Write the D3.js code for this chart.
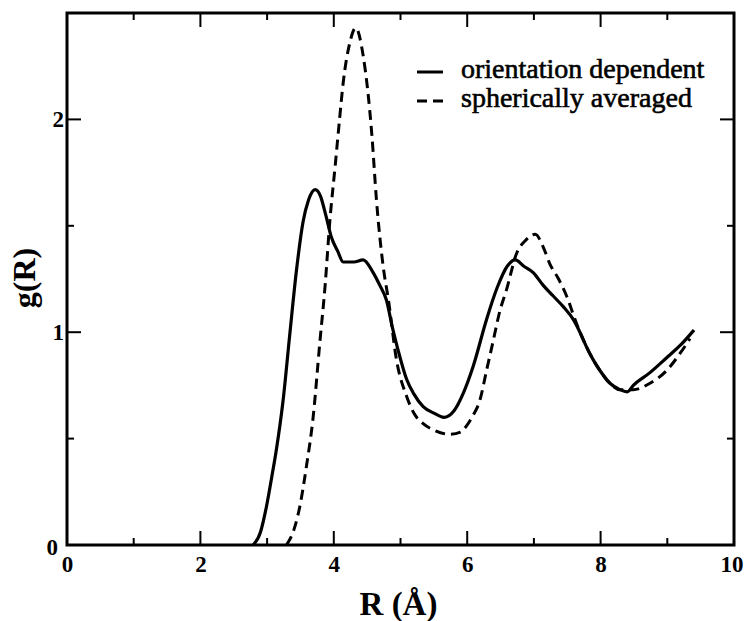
<!DOCTYPE html>
<html>
<head>
<meta charset="utf-8">
<script src="https://cdn.jsdelivr.net/npm/d3@7"></script>
<style>
html,body{margin:0;padding:0;background:#fff;}
svg{display:block;}
svg text{font-family:"Liberation Serif","Times New Roman",Times,"DejaVu Serif",serif !important;fill:#000;}
</style>
</head>
<body>
<svg id="chart" width="745" height="621"></svg>
<script>
// ---- data ----
const seriesNames = ["orientation dependent", "spherically averaged"];

const orientR = [2.79, 2.9, 2.99, 3.07, 3.14, 3.24, 3.34, 3.44, 3.54, 3.62, 3.72, 3.8, 3.88, 3.96, 4.06, 4.14, 4.3, 4.44, 4.59, 4.69, 4.79, 4.88, 4.96, 5.09, 5.2, 5.34, 5.5, 5.65, 5.8, 5.95, 6.09, 6.29, 6.45, 6.6, 6.72, 6.85, 6.99, 7.14, 7.29, 7.44, 7.59, 7.69, 7.79, 7.89, 7.99, 8.14, 8.29, 8.4, 8.49, 8.74, 8.99, 9.2, 9.4];
const orientG = [0, 0.06, 0.18, 0.32, 0.45, 0.68, 0.99, 1.29, 1.52, 1.62, 1.67, 1.64, 1.55, 1.45, 1.38, 1.33, 1.33, 1.34, 1.28, 1.22, 1.15, 1.02, 0.92, 0.78, 0.71, 0.65, 0.62, 0.60, 0.63, 0.72, 0.84, 1.06, 1.21, 1.31, 1.34, 1.31, 1.28, 1.22, 1.17, 1.12, 1.06, 1.0, 0.93, 0.87, 0.82, 0.76, 0.73, 0.72, 0.75, 0.81, 0.88, 0.94, 1.01];

const spherR = [3.29, 3.4, 3.49, 3.59, 3.69, 3.79, 3.87, 3.94, 4.02, 4.08, 4.14, 4.24, 4.33, 4.44, 4.57, 4.64, 4.74, 4.82, 4.94, 5.09, 5.2, 5.34, 5.5, 5.74, 5.9, 5.99, 6.09, 6.19, 6.29, 6.39, 6.49, 6.59, 6.74, 6.87, 7.02, 7.14, 7.24, 7.37, 7.49, 7.64, 7.79, 7.99, 8.14, 8.29, 8.49, 8.74, 8.99, 9.19, 9.34];
const spherG = [0, 0.07, 0.18, 0.37, 0.60, 0.95, 1.22, 1.52, 1.78, 1.98, 2.17, 2.36, 2.43, 2.30, 1.93, 1.62, 1.31, 1.15, 0.87, 0.70, 0.62, 0.57, 0.54, 0.52, 0.53, 0.56, 0.61, 0.68, 0.82, 0.96, 1.10, 1.20, 1.37, 1.43, 1.46, 1.40, 1.32, 1.25, 1.17, 1.04, 0.93, 0.82, 0.76, 0.73, 0.73, 0.76, 0.82, 0.90, 0.97];

const xMajorTicks = [0, 2, 4, 6, 8, 10];
const xMinorTicks = [1, 3, 5, 7, 9];
const yMajorTicks = [0, 1, 2];
const yMinorTicks = [0.5, 1.5];
const xLabel = "R (Å)";
const yLabel = "g(R)";

// ---- layout ----
const FONT = "'Liberation Serif','Times New Roman',Times,'DejaVu Serif',serif";
const svg = d3.select("#chart");
const L = 67, R = 734, T = 13, B = 545;
const x = d3.scaleLinear().domain([0, 10]).range([L, R]);
const y = d3.scaleLinear().domain([0, 2.5]).range([B, T]);

const majorLen = 14, minorLen = 7;

// ticks, inward on all four sides
const tg = svg.append("g").attr("stroke", "#000").attr("stroke-width", 2);
function xt(vals, len) {
  vals.forEach(v => {
    tg.append("line").attr("x1", x(v)).attr("x2", x(v)).attr("y1", B).attr("y2", B - len);
    tg.append("line").attr("x1", x(v)).attr("x2", x(v)).attr("y1", T).attr("y2", T + len);
  });
}
function yt(vals, len) {
  vals.forEach(v => {
    tg.append("line").attr("y1", y(v)).attr("y2", y(v)).attr("x1", L).attr("x2", L + len);
    tg.append("line").attr("y1", y(v)).attr("y2", y(v)).attr("x1", R).attr("x2", R - len);
  });
}
xt(xMajorTicks, majorLen); xt(xMinorTicks, minorLen);
yt(yMajorTicks, majorLen); yt(yMinorTicks, minorLen);

// frame
svg.append("rect").attr("x", L).attr("y", T).attr("width", R - L).attr("height", B - T)
  .attr("fill", "none").attr("stroke", "#000").attr("stroke-width", 3);

// tick labels
const xAxis = d3.axisBottom(x).tickValues(xMajorTicks).tickSize(0).tickPadding(0).tickFormat(d3.format("d"));
const gx = svg.append("g").attr("transform", `translate(0,${B})`).call(xAxis).attr("font-family", FONT);
gx.select(".domain").remove();
gx.selectAll("text").attr("font-size", 23).attr("font-weight", "bold")
  .attr("dy", null).attr("y", 27);
gx.selectAll(".tick").filter(d => d === 10).select("text")
  .attr("text-anchor", "end").attr("x", 743 - x(10));

const yAxis = d3.axisLeft(y).tickValues(yMajorTicks).tickSize(0).tickPadding(0).tickFormat(d3.format("d"));
const gy = svg.append("g").attr("transform", `translate(${L},0)`).call(yAxis).attr("font-family", FONT);
gy.select(".domain").remove();
gy.selectAll("text").attr("font-size", 23).attr("font-weight", "bold")
  .attr("dy", "0.33em").attr("x", -3);
gy.selectAll(".tick").filter(d => d === 0).select("text").attr("x", -9).attr("dy", "0.4em");

// axis titles
svg.append("text").attr("x", (L + R) / 2 - 2).attr("y", 615).attr("text-anchor", "middle")
  .attr("font-family", FONT).attr("font-size", 33).attr("font-weight", "bold").text(xLabel);
svg.append("text").attr("transform", "translate(35,278) rotate(-90)").attr("text-anchor", "middle")
  .attr("font-family", FONT).attr("font-size", 32).attr("font-weight", "bold").text(yLabel);

// curves
const line = d3.line().x(d => x(d[0])).y(d => y(d[1])).curve(d3.curveMonotoneX);
const orient = orientR.map((r, i) => [r, orientG[i]]);
const spher = spherR.map((r, i) => [r, spherG[i]]);

svg.append("path").datum(spher).attr("d", line).attr("fill", "none")
  .attr("stroke", "#000").attr("stroke-width", 3).attr("stroke-dasharray", "10,6");
svg.append("path").datum(orient).attr("d", line).attr("fill", "none")
  .attr("stroke", "#000").attr("stroke-width", 3.2);

// legend
const lg = svg.append("g");
const legY = [72, 101];
lg.append("line").attr("x1", 417).attr("x2", 443).attr("y1", legY[0]).attr("y2", legY[0])
  .attr("stroke", "#000").attr("stroke-width", 3);
lg.append("line").attr("x1", 417).attr("x2", 443).attr("y1", legY[1]).attr("y2", legY[1])
  .attr("stroke", "#000").attr("stroke-width", 3).attr("stroke-dasharray", "10,6");
seriesNames.forEach((n, i) => {
  lg.append("text").attr("x", 461).attr("y", legY[i] + 6).attr("font-family", FONT).attr("font-size", 28)
    .attr("stroke", "#000").attr("stroke-width", 0.6).text(n);
});
</script>
</body>
</html>
